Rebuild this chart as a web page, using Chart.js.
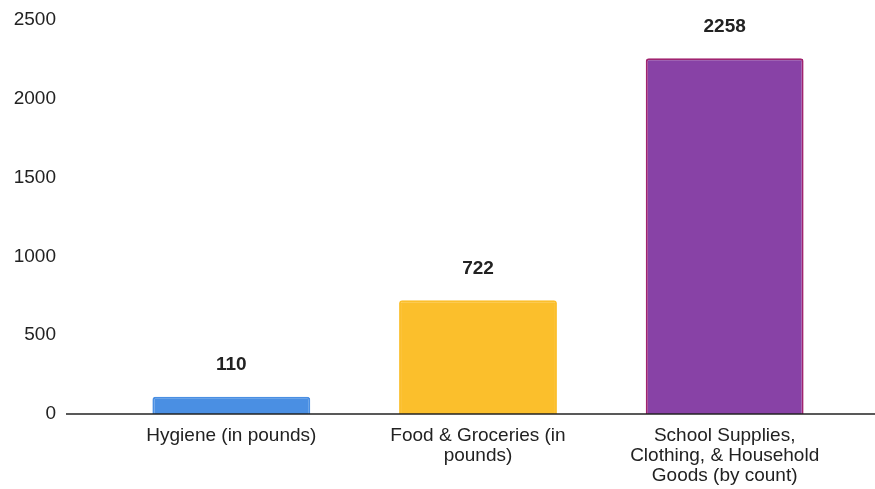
<!DOCTYPE html>
<html>
<head>
<meta charset="utf-8">
<script src="https://cdn.jsdelivr.net/npm/chart.js@4.4.1/dist/chart.umd.min.js"></script>
<style>
  html, body { margin: 0; padding: 0; background: #fff; }
  #wrap { width: 875px; height: 489px; position: relative; }
</style>
</head>
<body>
<div id="wrap"><canvas id="grafico"></canvas></div>
<script>
const categorias = [
  ['Hygiene (in pounds)'],
  ['Food & Groceries (in', 'pounds)'],
  ['School Supplies,', 'Clothing, & Household', 'Goods (by count)']
];
const valores = [110, 722, 2258];
const ticksY = [0, 500, 1000, 1500, 2000, 2500];

const coresBarras = ['#4a8fe3', '#fbbf2c', '#8842a6'];
const coresBorda = ['#4a8fe3', '#fbbf2c', '#a0236f'];

// linha de base que passa por baixo das barras ate a borda direita
const linhaBase = {
  id: 'linhaBase',
  afterDatasetsDraw(chart) {
    const ctx = chart.ctx;
    const y = chart.scales.y.getPixelForValue(0);
    ctx.save();
    ctx.strokeStyle = '#222';
    ctx.lineWidth = 1.5;
    ctx.beginPath();
    ctx.moveTo(66, y);
    ctx.lineTo(chart.width, y);
    ctx.stroke();
    ctx.restore();
  }
};

// rotulos de valor acima das barras
const rotulos = {
  id: 'rotulos',
  afterDatasetsDraw(chart) {
    const ctx = chart.ctx;
    const meta = chart.getDatasetMeta(0);
    ctx.save();
    ctx.font = 'bold 19px "Liberation Sans", Arial, sans-serif';
    ctx.fillStyle = '#222';
    ctx.textAlign = 'center';
    ctx.textBaseline = 'bottom';
    meta.data.forEach((bar, i) => {
      ctx.fillText(String(valores[i]), bar.x, bar.y - 22);
    });
    ctx.restore();
  }
};

const ctx = document.getElementById('grafico').getContext('2d');
const grafico = new Chart(ctx, {
  type: 'bar',
  data: {
    labels: categorias,
    datasets: [{
      data: valores,
      backgroundColor: coresBarras,
      borderColor: coresBorda,
      borderWidth: 2,
      borderRadius: 3,
      borderSkipped: 'bottom',
      barPercentage: 0.64,
      categoryPercentage: 1
    }]
  },
  options: {
    responsive: true,
    maintainAspectRatio: false,
    animation: false,
    layout: { padding: { top: 20, right: 27, bottom: 0, left: 0 } },
    plugins: {
      legend: { display: false },
      tooltip: { enabled: false }
    },
    scales: {
      y: {
        min: 0,
        max: 2500,
        afterBuildTicks: (axis) => { axis.ticks = ticksY.map(v => ({ value: v })); },
        afterFit: (axis) => { axis.width = 108; },
        border: { display: false },
        grid: { display: false, drawTicks: true, tickLength: 44 },
        ticks: {
          padding: 8,
          color: '#222',
          callback: (v) => String(v),
          font: { family: '"Liberation Sans", Arial, sans-serif', size: 19 }
        }
      },
      x: {
        afterFit: (axis) => { axis.height = 75; },
        border: { display: false },
        grid: { display: false, drawTicks: false },
        ticks: {
          padding: 12,
          maxRotation: 0,
          autoSkip: false,
          color: '#222',
          font: { family: '"Liberation Sans", Arial, sans-serif', size: 19, lineHeight: 1.05 }
        }
      }
    }
  },
  plugins: [linhaBase, rotulos]
});
</script>
</body>
</html>
